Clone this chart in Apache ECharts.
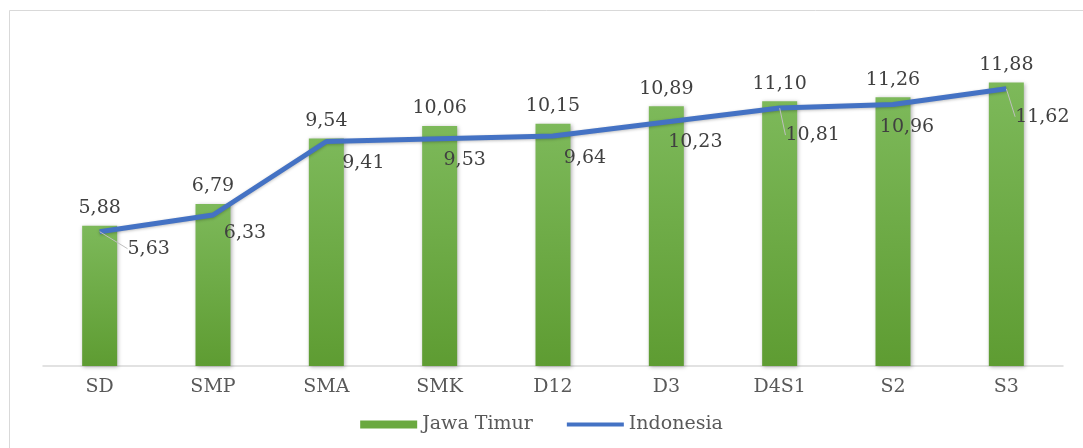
<!DOCTYPE html>
<html>
<head>
<meta charset="utf-8">
<style>
  html, body { margin: 0; padding: 0; background: #ffffff; }
  #chart { width: 1083px; height: 448px; }
</style>
<script src="https://cdn.jsdelivr.net/npm/echarts@6/dist/echarts.min.js"></script>
</head>
<body>
<div id="chart"></div>
<script>
// Education levels on the horizontal axis
const categories = ['SD', 'SMP', 'SMA', 'SMK', 'D12', 'D3', 'D4S1', 'S2', 'S3'];
// East Java values (bars)
const jawaTimur = [5.88, 6.79, 9.54, 10.06, 10.15, 10.89, 11.10, 11.26, 11.88];
// National values (line)
const indonesia = [5.63, 6.33, 9.41, 9.53, 9.64, 10.23, 10.81, 10.96, 11.62];

// Offsets of each national value label from its point
const lineLabelShift = [[49, 17], [32, 18], [37, 22], [25, 21], [32, 22], [29, 20], [33, 27], [14, 23], [36, 28]];
// Points whose label is joined by a leader line
const leaderIdx = [0, 6, 8];

const fmt = v => v.toFixed(2).replace('.', ',');
const serif = 'DejaVu Serif';

const chart = echarts.init(document.getElementById('chart'), null, { renderer: 'canvas' });

chart.setOption({
  backgroundColor: '#ffffff',
  animation: false,
  graphic: [{
    type: 'rect',
    silent: true,
    shape: { x: 9.5, y: 10.5, width: 1200, height: 600 },
    style: { fill: 'none', stroke: '#d9d9d9', lineWidth: 1 }
  }],
  grid: { left: 43, right: 20, top: 32, bottom: 82 },
  legend: {
    bottom: 9,
    left: 'center',
    itemWidth: 57,
    itemHeight: 8,
    itemGap: 34,
    symbolKeepAspect: false,
    textStyle: { fontFamily: serif, fontSize: 19, color: '#595959' },
    data: [
      { name: 'Jawa Timur', icon: 'rect', itemStyle: { color: '#6aa93f' } },
      // thin bar centred in the icon box
      { name: 'Indonesia', icon: 'path://M0,0M0,2h10v4h-10zM0,8', itemStyle: { color: '#4472c4' } }
    ]
  },
  xAxis: {
    type: 'category',
    data: categories,
    axisLine: { lineStyle: { color: '#d9d9d9', width: 1.5 } },
    axisTick: { show: false },
    axisLabel: { fontFamily: serif, fontSize: 19, color: '#595959', margin: 12 }
  },
  yAxis: {
    type: 'value',
    min: 0,
    max: 14,
    show: false,
    splitLine: { show: false }
  },
  series: [
    {
      name: 'Jawa Timur',
      type: 'bar',
      data: jawaTimur,
      barWidth: 35,
      itemStyle: {
        color: new echarts.graphic.LinearGradient(0, 0, 0, 1, [
          { offset: 0, color: '#7db95a' },
          { offset: 1, color: '#5e9c32' }
        ]),
        shadowBlur: 4,
        shadowColor: 'rgba(0,0,0,0.3)',
        shadowOffsetX: 1,
        shadowOffsetY: 1
      },
      label: {
        show: true,
        position: 'top',
        distance: 8,
        formatter: p => fmt(p.value),
        fontFamily: serif,
        fontSize: 19,
        color: '#404040'
      }
    },
    {
      name: 'Indonesia',
      type: 'line',
      data: indonesia.map((v, i) => ({
        value: v,
        labelLine: { show: leaderIdx.includes(i) }
      })),
      showSymbol: true,
      symbol: 'circle',
      symbolSize: 0.1,
      z: 3,
      lineStyle: {
        color: '#4472c4',
        width: 5,
        shadowBlur: 3,
        shadowColor: 'rgba(0,0,0,0.25)',
        shadowOffsetY: 1
      },
      itemStyle: { color: '#4472c4' },
      label: {
        show: true,
        position: 'inside',
        formatter: p => fmt(p.value),
        fontFamily: serif,
        fontSize: 19,
        color: '#404040'
      },
      labelLine: {
        show: false,
        lineStyle: { color: '#bfbfbf', width: 1 }
      },
      labelLayout: p => ({
        dx: lineLabelShift[p.dataIndex][0],
        dy: lineLabelShift[p.dataIndex][1]
      })
    }
  ]
});
</script>
</body>
</html>
